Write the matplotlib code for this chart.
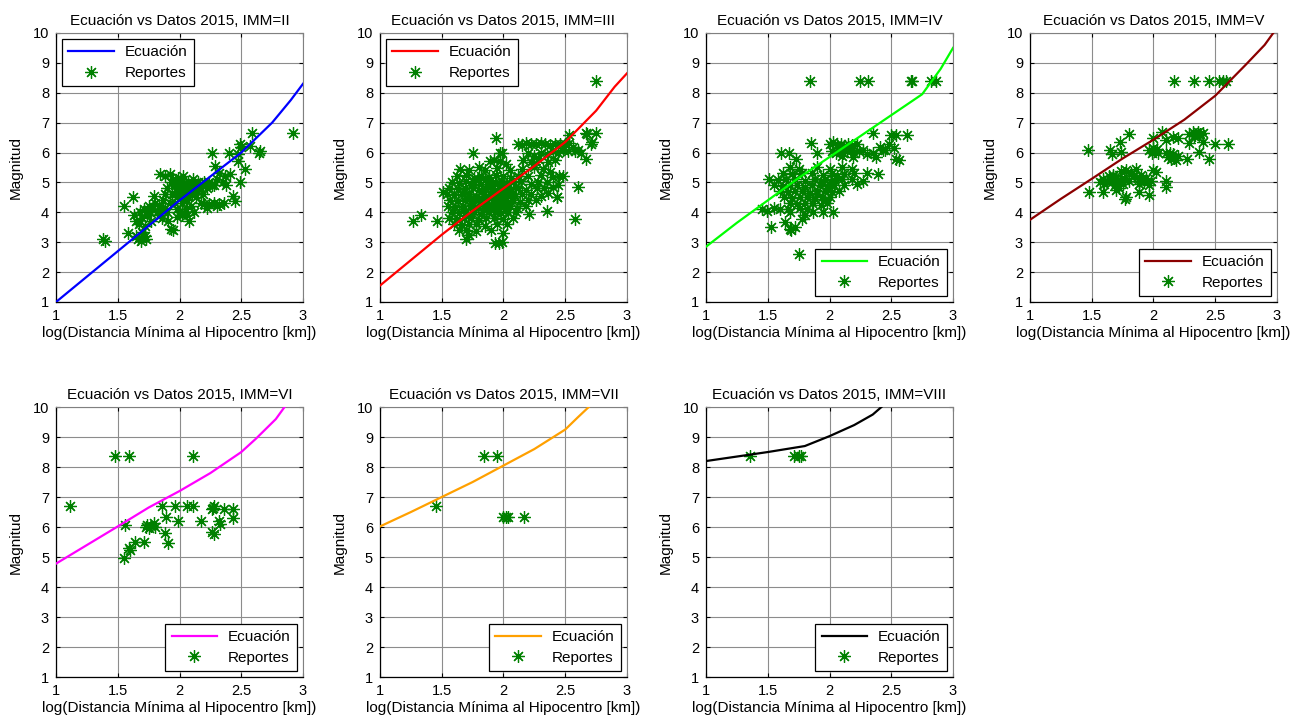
import matplotlib
matplotlib.use('Agg')
import matplotlib.pyplot as plt
import numpy as np

plt.rcParams['font.family'] = ['Liberation Sans', 'DejaVu Sans']
plt.rcParams['font.size'] = 10

# curves (Ecuación) per IMM
ec_ii_x = [1, 1.25, 1.5, 1.75, 2, 2.25, 2.5, 2.75, 2.9, 3]
ec_ii_y = [1.0, 1.85, 2.7, 3.55, 4.4, 5.2, 6.0, 7.0, 7.75, 8.3]
ec_iii_x = [1, 1.25, 1.5, 1.75, 2, 2.25, 2.5, 2.75, 2.9, 3]
ec_iii_y = [1.55, 2.4, 3.25, 4.05, 4.8, 5.55, 6.35, 7.4, 8.2, 8.65]
ec_iv_x = [1, 1.25, 1.5, 1.75, 2, 2.25, 2.5, 2.75, 2.9, 3]
ec_iv_y = [2.85, 3.65, 4.4, 5.15, 5.85, 6.55, 7.25, 7.95, 8.8, 9.5]
ec_v_x = [1, 1.25, 1.5, 1.75, 2, 2.25, 2.5, 2.75, 2.9, 2.97]
ec_v_y = [3.75, 4.45, 5.12, 5.8, 6.43, 7.1, 7.9, 8.95, 9.6, 10.0]
ec_vi_x = [1, 1.25, 1.5, 1.75, 2, 2.25, 2.5, 2.62, 2.78, 2.85]
ec_vi_y = [4.78, 5.4, 6.02, 6.65, 7.2, 7.8, 8.5, 8.95, 9.6, 10.0]
ec_vii_x = [1, 1.25, 1.5, 1.75, 2, 2.25, 2.5, 2.6, 2.69]
ec_vii_y = [6.02, 6.5, 7.0, 7.5, 8.05, 8.6, 9.25, 9.65, 10.0]
ec_viii_x = [1, 1.25, 1.5, 1.8, 2, 2.2, 2.35, 2.42]
ec_viii_y = [8.2, 8.35, 8.5, 8.7, 9.03, 9.4, 9.75, 10.0]

# reports (log distance, magnitude)
rep_ii = [(1.38, 3.10), (1.40, 3.05), (1.55, 4.20), (1.62, 4.50), (1.58, 3.30), (1.65, 3.20),
          (1.66, 3.10), (1.69, 3.05), (1.72, 3.20), (1.73, 3.10), (1.70, 3.35),
          (1.63, 3.90), (1.65, 3.70), (1.67, 3.60), (1.68, 4.00), (1.70, 3.80), (1.71, 4.10),
          (1.72, 3.55), (1.74, 3.90), (1.75, 4.20), (1.76, 4.00), (1.77, 3.70), (1.78, 4.10),
          (1.79, 4.55), (1.80, 4.30), (1.82, 4.00), (1.83, 4.20), (1.84, 3.90), (1.85, 4.10),
          (1.86, 3.80), (1.87, 4.40), (1.88, 4.15), (1.90, 4.00), (1.91, 3.70), (1.93, 3.45),
          (1.92, 4.30), (1.84, 5.28), (1.88, 5.20), (1.92, 5.28), (1.95, 5.10), (1.96, 4.90),
          (1.97, 4.70), (1.98, 4.50), (1.99, 4.80), (2.00, 5.00), (2.01, 4.60), (2.02, 4.30),
          (2.03, 5.20), (2.04, 4.90), (2.05, 4.70), (2.06, 4.40), (2.07, 5.00), (2.08, 4.80),
          (2.09, 4.20), (2.10, 4.60), (2.11, 5.10), (2.12, 4.90), (2.13, 4.50), (2.14, 4.70),
          (2.15, 5.00), (2.16, 4.80), (2.17, 4.30), (2.18, 4.90), (2.19, 4.60), (2.20, 5.00),
          (2.22, 4.80), (2.24, 5.00), (2.26, 4.90), (1.94, 4.60), (1.96, 4.30), (1.98, 4.10),
          (2.00, 4.00), (2.02, 3.90), (2.05, 4.10), (1.98, 3.83), (2.08, 3.72), (2.12, 4.00),
          (2.06, 3.90), (1.90, 4.80), (1.88, 4.60), (1.93, 5.00), (1.95, 3.40),
          (1.99, 5.15), (2.02, 5.05), (2.05, 4.95), (2.00, 4.65), (2.04, 4.45), (2.09, 4.85),
          (1.97, 5.00), (2.01, 4.75), (2.07, 4.55), (2.11, 4.75),
          (2.26, 5.97), (2.29, 5.56), (2.32, 5.33), (2.37, 5.22), (2.40, 5.98), (2.41, 5.28),
          (2.47, 5.72), (2.49, 5.00), (2.43, 4.56), (2.45, 4.39), (2.20, 4.28), (2.24, 4.28),
          (2.28, 4.30), (2.32, 4.28), (2.36, 4.30), (2.30, 4.20), (2.22, 4.15), (2.49, 6.28),
          (2.50, 6.17), (2.47, 5.94), (2.57, 6.22), (2.53, 5.44), (2.59, 6.67), (2.64, 5.97),
          (2.65, 6.05), (2.92, 6.67), (2.35, 5.00), (2.38, 4.90), (2.30, 5.10), (2.28, 4.90)]

rep_iii = [(1.65, 5.45), (1.72, 5.40), (1.80, 5.50), (1.85, 5.42), (1.95, 5.48), (2.05, 5.40),
           (2.15, 5.45), (2.25, 5.50),
           (1.62, 5.20), (1.70, 5.25), (1.76, 5.15), (1.82, 5.22), (1.88, 5.18), (1.94, 5.25),
           (2.00, 5.20), (2.06, 5.15), (2.12, 5.22), (2.20, 5.20), (2.30, 5.25), (2.40, 5.18),
           (2.48, 5.20),
           (1.58, 5.00), (1.64, 4.98), (1.70, 5.05), (1.76, 5.00), (1.82, 4.95), (1.88, 5.02),
           (1.93, 5.00), (1.98, 5.05), (2.03, 4.98), (2.08, 5.00), (2.14, 5.05), (2.22, 4.95),
           (2.28, 5.00), (2.35, 5.02), (2.44, 4.90),
           (1.56, 4.80), (1.63, 4.78), (1.69, 4.82), (1.75, 4.80), (1.80, 4.75), (1.86, 4.82),
           (1.91, 4.78), (1.96, 4.80), (2.01, 4.85), (2.06, 4.78), (2.12, 4.80), (2.18, 4.75),
           (2.27, 4.83), (2.33, 4.80),
           (1.54, 4.60), (1.60, 4.58), (1.66, 4.62), (1.72, 4.60), (1.78, 4.55), (1.84, 4.62),
           (1.89, 4.60), (1.94, 4.58), (1.99, 4.62), (2.04, 4.60), (2.09, 4.55), (2.15, 4.60),
           (2.22, 4.62), (2.30, 4.55), (2.43, 4.50),
           (1.57, 4.40), (1.63, 4.38), (1.69, 4.42), (1.75, 4.40), (1.81, 4.35), (1.87, 4.42),
           (1.92, 4.40), (1.97, 4.38), (2.02, 4.42), (2.07, 4.40), (2.13, 4.35), (2.20, 4.40),
           (2.26, 4.42),
           (1.55, 4.20), (1.61, 4.18), (1.67, 4.22), (1.73, 4.20), (1.79, 4.15), (1.85, 4.22),
           (1.90, 4.20), (1.95, 4.18), (2.00, 4.22), (2.05, 4.20), (2.11, 4.15), (2.18, 4.20),
           (2.35, 4.06),
           (1.58, 4.00), (1.64, 3.98), (1.70, 4.02), (1.76, 4.00), (1.82, 3.95), (1.88, 4.02),
           (1.93, 4.00), (1.98, 3.98), (2.04, 4.02), (2.10, 4.00), (2.21, 3.94),
           (1.56, 3.80), (1.62, 3.78), (1.68, 3.82), (1.74, 3.80), (1.80, 3.75), (1.86, 3.82),
           (1.92, 3.80), (2.00, 3.78), (2.08, 3.82),
           (1.60, 3.60), (1.66, 3.58), (1.72, 3.62), (1.78, 3.60), (1.85, 3.55), (1.95, 3.62),
           (2.03, 3.60),
           (1.64, 3.40), (1.70, 3.42), (1.78, 3.38), (1.90, 3.40),
           (1.79, 5.10), (1.85, 5.08), (1.91, 4.90), (1.97, 4.92), (2.03, 4.70), (1.83, 4.70),
           (1.88, 4.50), (1.94, 4.48), (2.00, 4.52), (1.80, 4.48), (1.86, 4.30), (1.92, 4.30),
           (1.98, 4.28), (2.04, 4.32), (1.96, 4.10), (1.90, 4.08), (1.84, 4.10), (2.02, 4.10),
           (1.95, 4.70), (2.00, 4.95), (1.92, 4.65), (1.99, 4.38), (2.07, 4.62), (2.10, 4.85),
           (1.75, 4.25), (1.72, 4.45), (1.68, 4.68), (1.74, 4.90), (1.67, 4.10), (1.71, 3.90),
           (1.70, 3.10), (1.72, 3.25), (1.93, 2.98), (1.96, 2.97), (1.99, 3.00), (2.00, 3.30),
           (1.27, 3.70), (1.33, 3.90), (1.46, 3.70), (1.51, 4.67), (1.75, 6.00), (1.94, 6.48),
           (2.75, 8.40), (2.58, 3.78), (2.60, 4.86), (2.43, 4.50), (2.27, 4.83),
           (1.89, 5.72), (1.97, 5.97), (1.97, 5.72), (1.92, 5.75), (2.02, 5.60), (1.99, 6.00),
           (2.25, 5.60), (2.32, 5.45), (2.38, 5.35), (2.45, 5.20), (2.40, 4.85), (2.36, 4.65),
           (2.12, 6.30), (2.15, 6.25), (2.18, 6.32), (2.22, 6.30), (2.26, 6.28), (2.30, 6.32),
           (2.34, 6.30), (2.38, 6.25), (2.42, 6.30), (2.46, 6.28), (2.50, 6.30), (2.53, 6.32),
           (2.56, 6.20), (2.60, 6.10), (2.63, 6.00), (2.58, 6.05), (2.52, 6.05), (2.48, 6.10),
           (2.44, 6.00), (2.40, 6.05), (2.35, 5.95), (2.30, 6.00), (2.25, 5.90), (2.20, 6.00),
           (2.16, 5.75), (2.22, 5.70), (2.28, 5.80), (2.36, 5.70), (2.42, 5.75), (2.53, 6.59),
           (2.67, 6.67), (2.75, 6.67), (2.71, 6.28), (2.67, 5.78), (2.72, 6.35), (2.68, 6.62)]

rep_iv = [(1.84, 8.40), (2.25, 8.40), (2.31, 8.40), (2.66, 8.40), (2.67, 8.38), (2.82, 8.40),
          (2.86, 8.40),
          (2.35, 6.67), (2.50, 6.60), (2.54, 6.60), (2.63, 6.60), (1.85, 6.33), (2.41, 6.17),
          (2.48, 6.28), (1.61, 6.00), (1.67, 6.00), (1.73, 5.80), (1.90, 6.00),
          (2.00, 6.30), (2.03, 6.35), (2.06, 6.25), (2.09, 6.30), (2.12, 6.20), (2.15, 6.30),
          (2.18, 6.25), (2.22, 6.30), (2.02, 6.05), (2.05, 6.00), (2.08, 6.10), (2.11, 6.00),
          (2.14, 6.05), (2.17, 6.10), (2.20, 6.00), (2.24, 6.05), (2.27, 6.10), (2.30, 5.95),
          (2.10, 5.90), (2.19, 5.85),
          (2.38, 5.86), (2.54, 5.80), (2.43, 6.07), (2.39, 5.28), (2.45, 6.10), (2.52, 6.15),
          (2.56, 5.75), (2.35, 6.00),
          (1.68, 5.50), (1.75, 5.45), (1.90, 5.50), (2.00, 5.45), (2.10, 5.50), (2.18, 5.45),
          (1.62, 5.30), (1.70, 5.28), (1.78, 5.32), (1.86, 5.30), (1.95, 5.25), (2.02, 5.30),
          (2.12, 5.28), (2.20, 5.32), (2.30, 5.30),
          (1.51, 5.10), (1.58, 5.08), (1.65, 5.12), (1.72, 5.10), (1.80, 5.05), (1.88, 5.12),
          (1.96, 5.10), (2.04, 5.08), (2.10, 5.12), (2.18, 5.10), (2.27, 5.05),
          (1.55, 4.90), (1.62, 4.88), (1.68, 4.92), (1.74, 4.90), (1.80, 4.85), (1.86, 4.92),
          (1.92, 4.90), (1.98, 4.88), (2.04, 4.92), (2.12, 4.90), (2.22, 4.95),
          (1.60, 4.70), (1.66, 4.68), (1.72, 4.72), (1.78, 4.70), (1.84, 4.65), (1.90, 4.72),
          (1.96, 4.70), (2.02, 4.68), (2.08, 4.72),
          (1.63, 4.50), (1.70, 4.48), (1.76, 4.52), (1.82, 4.50), (1.88, 4.45), (1.94, 4.52),
          (2.00, 4.50),
          (1.68, 4.30), (1.74, 4.28), (1.80, 4.32), (1.86, 4.30), (1.93, 4.25), (1.98, 4.30),
          (1.45, 4.10), (1.49, 4.05), (1.55, 4.15), (1.60, 4.10), (1.66, 4.12), (1.76, 4.15),
          (1.82, 4.10),
          (1.68, 4.00), (1.87, 4.00), (1.95, 4.00), (2.03, 4.00),
          (1.93, 5.00), (1.99, 4.80), (1.90, 4.60), (1.96, 4.40), (2.01, 5.00), (2.06, 5.20),
          (1.53, 3.50), (1.64, 3.67), (1.68, 3.45), (1.69, 3.40), (1.72, 3.50), (1.78, 3.78),
          (1.80, 3.90), (1.75, 2.60)]

rep_v = [(2.17, 8.40), (2.33, 8.40), (2.45, 8.40), (2.53, 8.40), (2.56, 8.40), (2.59, 8.38),
         (1.80, 6.63), (1.73, 6.36), (1.65, 6.08), (1.74, 6.02), (1.47, 6.10), (1.66, 5.95),
         (2.07, 6.69), (2.00, 6.47), (2.10, 6.41), (2.16, 6.52), (2.20, 6.47),
         (2.29, 6.62), (2.32, 6.68), (2.34, 6.60), (2.36, 6.70), (2.38, 6.62), (2.40, 6.65),
         (2.33, 6.55), (2.37, 6.58),
         (2.40, 6.36), (2.50, 6.30), (2.60, 6.30), (2.29, 6.32),
         (1.96, 6.10), (1.99, 6.00), (2.01, 6.05), (2.03, 6.12), (2.04, 5.97), (2.00, 6.15),
         (2.10, 5.97), (2.12, 5.85), (2.14, 5.80), (2.16, 5.95), (2.18, 5.75), (2.20, 5.90),
         (2.13, 6.00), (2.17, 5.82), (2.27, 5.80), (2.37, 6.02), (2.45, 5.80),
         (1.57, 5.00), (1.59, 5.10), (1.60, 4.95), (1.62, 5.05), (1.64, 5.20), (1.66, 5.00),
         (1.67, 5.25), (1.69, 4.90), (1.70, 5.10), (1.72, 4.80), (1.73, 5.00), (1.74, 5.39),
         (1.76, 5.15), (1.78, 5.40), (1.80, 5.05), (1.82, 5.30), (1.84, 5.20), (1.86, 5.44),
         (1.88, 5.10), (1.90, 5.25), (1.92, 5.00), (1.94, 5.15), (1.96, 4.90), (1.98, 5.05),
         (2.00, 5.40), (2.02, 5.35), (1.67, 5.22), (1.75, 4.95), (1.70, 4.75), (1.88, 4.95),
         (1.48, 4.68), (1.59, 4.68), (1.78, 4.50), (1.88, 4.68), (1.96, 4.57), (2.10, 5.06),
         (2.10, 4.86), (1.77, 4.45)]

rep_vi = [(1.11, 6.70), (1.48, 8.37), (1.59, 8.37), (2.11, 8.37), (1.56, 6.07), (1.55, 4.98),
          (1.59, 5.30), (1.60, 5.23), (1.64, 5.50), (1.71, 5.49), (1.73, 6.00), (1.74, 6.08),
          (1.75, 5.98), (1.77, 6.05), (1.79, 6.12), (1.80, 6.00), (1.86, 6.70), (1.88, 5.80),
          (1.89, 6.35), (1.91, 5.48), (1.96, 6.70), (1.99, 6.21), (2.06, 6.70), (2.11, 6.70),
          (2.17, 6.21), (2.26, 6.60), (2.28, 6.70), (2.27, 6.62), (2.26, 5.83), (2.28, 5.78),
          (2.32, 6.21), (2.33, 6.10), (2.36, 6.60), (2.43, 6.30), (2.43, 6.60)]

rep_vii = [(1.45, 6.71), (1.84, 8.38), (1.95, 8.38), (2.00, 6.33), (2.02, 6.33), (2.04, 6.33),
           (2.17, 6.33)]

rep_viii = [(1.36, 8.38), (1.71, 8.38), (1.75, 8.38), (1.77, 8.38)]

titles = ['Ecuación vs Datos 2015, IMM=II', 'Ecuación vs Datos 2015, IMM=III',
          'Ecuación vs Datos 2015, IMM=IV', 'Ecuación vs Datos 2015, IMM=V',
          'Ecuación vs Datos 2015, IMM=VI', 'Ecuación vs Datos 2015, IMM=VII',
          'Ecuación vs Datos 2015, IMM=VIII']
curve_colors = ['#0000ff', '#ff0000', '#00ff00', '#8b0000', '#ff00ff', '#ffa000', '#000000']
x_ticks = [1, 1.5, 2, 2.5, 3]
x_tick_labels = ['1', '1.5', '2', '2.5', '3']
y_ticks = list(range(1, 11))


def draw_panel(ax, title, cx, cy, color, reps, loc):
    ax.set_axisbelow(True)
    ax.grid(True, color='0.55', linewidth=0.8)
    ax.plot(cx, cy, color=color, linewidth=1.6, label='Ecuación', zorder=3)
    pts = np.array(reps)
    ax.plot(pts[:, 0], pts[:, 1], linestyle='', marker=(8, 2, 0), markersize=9,
            markeredgewidth=0.9, color='#008000', label='Reportes', zorder=2)
    ax.set_xlim(1, 3)
    ax.set_ylim(1, 10)
    ax.set_xticks(x_ticks)
    ax.set_xticklabels(x_tick_labels)
    ax.set_yticks(y_ticks)
    ax.tick_params(direction='in', top=True, right=True, length=3, width=0.8,
                   labelsize=10.5, pad=5)
    for s in ['top', 'right']:
        ax.spines[s].set_color('0.5')
    for s in ['left', 'bottom']:
        ax.spines[s].set_color('black')
        ax.spines[s].set_linewidth(0.9)
    ax.set_title(title, fontsize=11, pad=6)
    ax.set_xlabel('log(Distancia Mínima al Hipocentro [km])', fontsize=11, labelpad=2)
    ax.set_ylabel('Magnitud', fontsize=11, labelpad=7)
    leg = ax.legend(loc=loc, numpoints=1, handlelength=3.0, handletextpad=0.7,
                    borderpad=0.4, labelspacing=0.45, borderaxespad=0.4,
                    fancybox=False, framealpha=1, edgecolor='black', fontsize=11)
    leg.get_frame().set_linewidth(0.9)


fig = plt.figure(figsize=(13, 7.23), dpi=100)
lefts = [0.0431, 0.2923, 0.5431, 0.7923]
w = 0.19
positions = [(lefts[0], 0.5823, w, 0.3721), (lefts[1], 0.5823, w, 0.3721),
             (lefts[2], 0.5823, w, 0.3721), (lefts[3], 0.5823, w, 0.3721),
             (lefts[0], 0.0636, w, 0.3734), (lefts[1], 0.0636, w, 0.3734),
             (lefts[2], 0.0636, w, 0.3734)]
curves = [(ec_ii_x, ec_ii_y), (ec_iii_x, ec_iii_y), (ec_iv_x, ec_iv_y), (ec_v_x, ec_v_y),
          (ec_vi_x, ec_vi_y), (ec_vii_x, ec_vii_y), (ec_viii_x, ec_viii_y)]
reports = [rep_ii, rep_iii, rep_iv, rep_v, rep_vi, rep_vii, rep_viii]
locs = ['upper left', 'upper left', 'lower right', 'lower right', 'lower right',
        'lower right', 'lower right']

for i in range(7):
    ax = fig.add_axes(positions[i])
    draw_panel(ax, titles[i], curves[i][0], curves[i][1], curve_colors[i], reports[i], locs[i])

fig.savefig('out.png', dpi=100)
